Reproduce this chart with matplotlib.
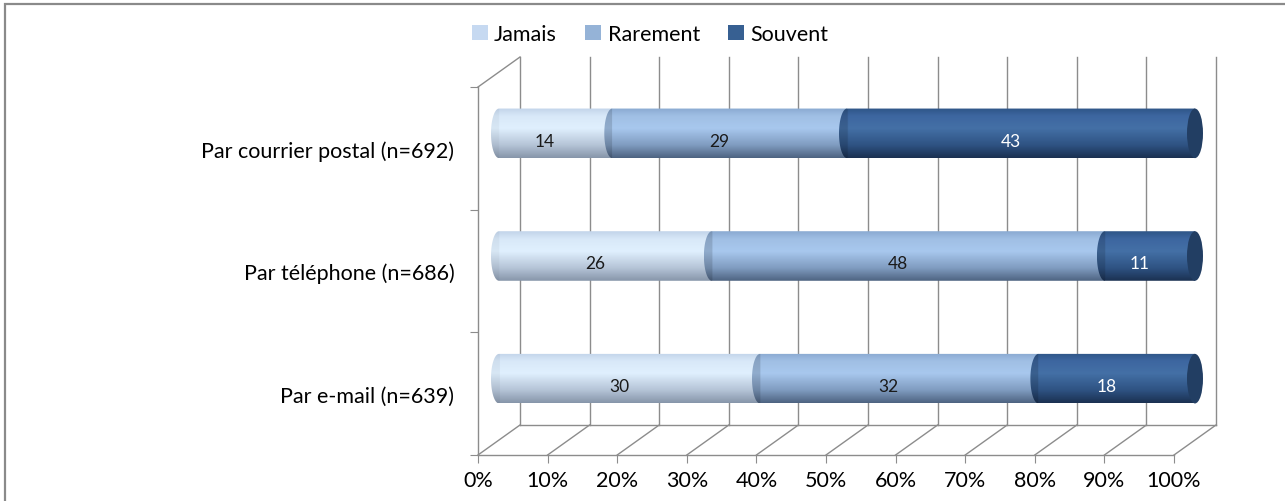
import numpy as np
import matplotlib
matplotlib.use("Agg")
import matplotlib.pyplot as plt
from matplotlib.path import Path
from matplotlib.patches import PathPatch, Ellipse, Patch, Rectangle
from matplotlib.colors import LinearSegmentedColormap

plt.rcParams["font.family"] = ["Lato", "DejaVu Sans"]

# Survey answers per channel (bottom to top)
categories = ["Par e-mail (n=639)", "Par téléphone (n=686)", "Par courrier postal (n=692)"]
series_names = ["Jamais", "Rarement", "Souvent"]
jamais = [30, 26, 14]
rarement = [32, 48, 29]
souvent = [18, 11, 43]
x_ticks = [0, 10, 20, 30, 40, 50, 60, 70, 80, 90, 100]

# flat colours for the legend, shaded ramps (bottom -> top) for the cylinders
legend_colors = ["#c6d9f1", "#95b3d7", "#376092"]
ramps = [
    ["#8796aa", "#b4c3d6", "#e0f0fe", "#d8e8f8", "#c2d4ea"],
    ["#4e6482", "#7f9bbf", "#a8c8ee", "#a0bfe4", "#8aaad2"],
    ["#1b3152", "#2e5282", "#4470a6", "#3d66a0", "#2f5688"],
]
ramp_pos = [0.0, 0.25, 0.6, 0.85, 1.0]
label_colors = ["#1a1a1a", "#1a1a1a", "white"]
cap_color = "#223e63"
grid_color = "#8c8c8c"

fig = plt.figure(figsize=(12.85, 5.02), dpi=100)
ax = fig.add_axes([478 / 1285, 46 / 502, 696 / 1285, 368 / 502])
ax.set_xlim(0, 100)
ax.set_ylim(0, 3)

# oblique depth of the 3D box, in data units
DX = 42 / 6.96
DY = 30 / (368 / 3)

def line(xs, ys, **kw):
    ax.plot(xs, ys, color=grid_color, lw=1.0, clip_on=False, zorder=1, **kw)

# back wall, floor and left wall edges
for x in x_ticks:
    line([x + DX, x + DX], [DY, 3 + DY])
    line([x, x + DX], [0, DY])
line([DX, 100 + DX], [DY, DY])
line([0, DX], [3, 3 + DY])

# axes spines and ticks
for s in ["top", "right"]:
    ax.spines[s].set_visible(False)
for s in ["left", "bottom"]:
    ax.spines[s].set_color(grid_color)
    ax.spines[s].set_linewidth(1.0)
ax.set_xticks(x_ticks)
ax.set_xticklabels([f"{x}%" for x in x_ticks])
ax.set_yticks([0, 1, 2, 3])
ax.set_yticklabels([])
ax.set_yticks([0.5, 1.5, 2.5], minor=True)
ax.set_yticklabels(categories, minor=True)
ax.tick_params(axis="both", which="major", direction="out", length=6,
               color=grid_color, labelsize=15.5, pad=5)
ax.tick_params(axis="y", which="minor", length=0, labelsize=15.5, pad=17)
ax.set_facecolor("none")


def segment_path(x0, x1, yc, h, rx):
    # body with a rounded (elliptic) left end
    t = np.linspace(np.pi / 2, 3 * np.pi / 2, 40)
    arc = np.column_stack([x0 + rx * np.cos(t), yc + h * np.sin(t)])
    verts = np.vstack([[[x1, yc + h]], arc, [[x1, yc - h]], [[x1, yc + h]]])
    codes = [Path.MOVETO] + [Path.LINETO] * (len(verts) - 2) + [Path.CLOSEPOLY]
    return Path(verts, codes)


h = 0.202
rx = 8 / 6.96
series = [jamais, rarement, souvent]
for i in range(len(categories)):
    vals = np.array([s[i] for s in series], dtype=float)
    shares = vals / vals.sum() * 100
    left = np.concatenate([[0], np.cumsum(shares)[:-1]])
    yc = i + 0.5 + DY / 2
    for j, (x0, w) in enumerate(zip(left, shares)):
        x0m = x0 + DX / 2
        x1m = x0m + w
        cmap = LinearSegmentedColormap.from_list(f"r{j}", list(zip(ramp_pos, ramps[j])))
        ny, nx = 64, 240
        col = cmap(np.linspace(0, 1, ny))[:, :3]
        img = np.repeat(col[:, None, :], nx, axis=1)
        xs = np.linspace(x0m - rx, x1m, nx)
        shade = np.where(xs < x0m, 0.86 if j > 0 else 0.96, 1.0)
        img = img * shade[None, :, None]
        patch = PathPatch(segment_path(x0m, x1m, yc, h, rx), transform=ax.transData)
        im = ax.imshow(img, extent=[x0m - rx, x1m, yc - h, yc + h], origin="lower",
                       aspect="auto", interpolation="bilinear", clip_path=patch,
                       zorder=2 + j)
        im.set_clip_box(fig.bbox)
        ax.text(x0 + DX / 4 + w / 2, i + 0.5 + DY / 4, f"{vals[j]:.0f}",
                ha="center", va="center", fontsize=12.5, color=label_colors[j],
                zorder=10)
    # visible end face of the cylinder
    ax.add_patch(Ellipse((100 + DX / 2, yc), 2 * rx, 2 * h, facecolor=cap_color,
                         edgecolor="none", clip_on=False, zorder=6))

ax.set_xlim(0, 100)
ax.set_ylim(0, 3)

handles = [Patch(facecolor=c, edgecolor="none") for c in legend_colors]
fig.legend(handles, series_names, loc="center", bbox_to_anchor=(650 / 1285, 1 - 35 / 502),
           ncol=3, frameon=False, fontsize=15.5, handlelength=0.75, handleheight=0.75,
           handletextpad=0.3, columnspacing=1.3)

# chart border (left and top edges show)
fig.add_artist(Rectangle((4.5 / 1285, -0.05), 1.1, 1.05 - 5 / 502, transform=fig.transFigure,
                         facecolor="none", edgecolor="#8a8a8a", lw=1.6))

fig.savefig("out.png", dpi=100)
